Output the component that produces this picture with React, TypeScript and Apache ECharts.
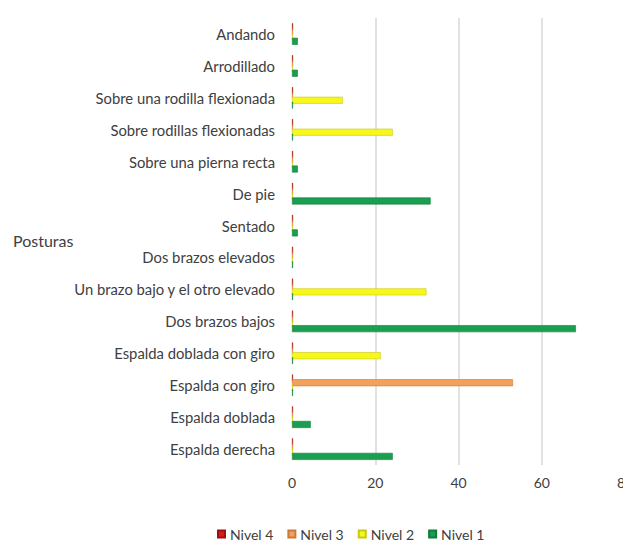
import React, { useEffect, useRef } from "react";
import * as echarts from "echarts";

const categories = [
  "Andando",
  "Arrodillado",
  "Sobre una rodilla flexionada",
  "Sobre rodillas flexionadas",
  "Sobre una pierna recta",
  "De pie",
  "Sentado",
  "Dos brazos elevados",
  "Un brazo bajo y el otro elevado",
  "Dos brazos bajos",
  "Espalda doblada con giro",
  "Espalda con giro",
  "Espalda doblada",
  "Espalda derecha",
];

const nivel4 = [0, 0, 0, 0, 0, 0, 0, 0, 0, 0, 0, 0, 0, 0];
const nivel3 = [0, 0, 0, 0, 0, 0, 0, 0, 0, 0, 0, 53.1, 0, 0];
const nivel2 = [0, 0, 12.2, 24.2, 0, 0, 0, 0, 32.3, 0, 21.3, 0, 0, 0];
const nivel1 = [1.4, 1.4, 0, 0, 1.4, 33.3, 1.4, 0, 0, 68.2, 0, 0, 4.5, 24.2];

const seriesNames = ["Nivel 4", "Nivel 3", "Nivel 2", "Nivel 1"];
const seriesColors = ["#D81A1A", "#F2A05A", "#F7F71E", "#1A9E50"];
const seriesBorders = ["#9E1010", "#C97A3A", "#C9C910", "#137A3C"];
const xTicks = [0, 20, 40, 60, 80];

const FONT = "Lato, 'Open Sans', sans-serif";

export default function App() {
  const ref = useRef<HTMLDivElement>(null);
  useEffect(() => {
    if (!ref.current) return;
    const chart = echarts.init(ref.current, undefined, { renderer: "svg" });
    const data = [nivel4, nivel3, nivel2, nivel1];
    chart.setOption({
      animation: false,
      backgroundColor: "#ffffff",
      textStyle: { fontFamily: FONT },
      grid: {
        left: 292,
        width: 333,
        top: 18,
        height: 447,
        containLabel: false,
        outerBoundsMode: "none",
      },
      legend: {
        data: seriesNames,
        top: 522,
        left: 212,
        icon: "rect",
        itemWidth: 7,
        itemHeight: 7,
        itemGap: 14,
        textStyle: { fontSize: 14, color: "#404040", fontFamily: FONT },
      },
      graphic: [
        {
          type: "text",
          left: 13,
          top: 232,
          style: { text: "Posturas", fontSize: 16, fill: "#404040", fontFamily: FONT },
        },
      ],
      xAxis: {
        type: "value",
        min: xTicks[0],
        max: xTicks[xTicks.length - 1],
        interval: 20,
        axisLine: { show: false },
        axisTick: { show: false },
        axisLabel: { fontSize: 14, color: "#404040", margin: 10, fontFamily: FONT },
        splitLine: {
          show: true,
          lineStyle: { color: "#D9D9D9", width: 1.5 },
          showMinLine: false,
        },
      },
      yAxis: {
        type: "category",
        data: categories,
        inverse: true,
        axisLine: { show: false },
        axisTick: { show: false },
        axisLabel: { fontSize: 14.8, color: "#404040", margin: 17, fontFamily: FONT },
        splitLine: { show: false },
      },
      series: seriesNames.map((name, i) => ({
        name,
        type: "bar",
        data: data[i],
        barWidth: 7,
        barGap: "-30%",
        barMinHeight: 1,
        itemStyle: {
          color: seriesColors[i],
          borderColor: seriesBorders[i],
          borderWidth: 0.6,
        },
      })),
    });
    return () => chart.dispose();
  }, []);
  return (
    <div
      ref={ref}
      style={{ position: "fixed", left: 0, top: 0, width: 623, height: 542 }}
    />
  );
}
